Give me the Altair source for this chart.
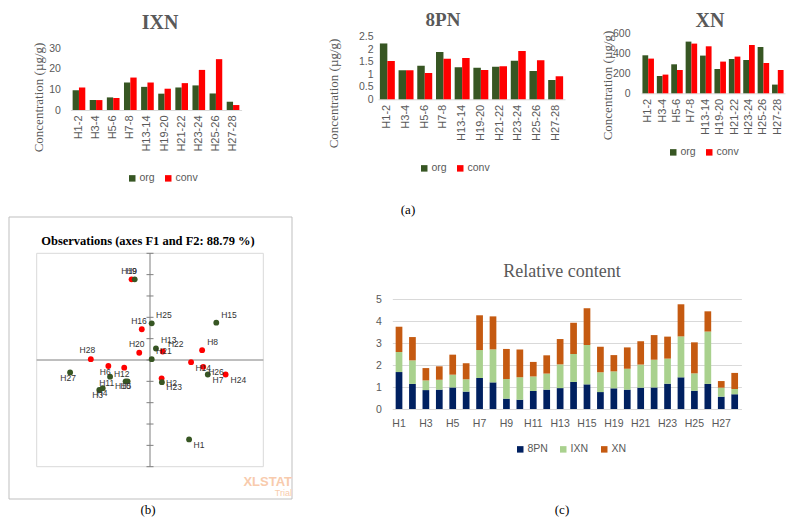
import altair as alt
import pandas as pd

# ---------------- data ----------------
pairs = ["H1-2", "H3-4", "H5-6", "H7-8", "H13-14", "H19-20", "H21-22", "H23-24", "H25-26", "H27-28"]
ixn_org = [9.6, 4.8, 6.1, 13.3, 11.2, 7.9, 10.9, 11.9, 8.0, 4.0]
ixn_conv = [10.9, 4.8, 5.8, 15.7, 13.3, 10.3, 13.0, 19.4, 24.6, 2.4]
pn_org = [2.23, 1.16, 1.34, 1.89, 1.28, 1.26, 1.30, 1.54, 1.13, 0.77]
pn_conv = [1.53, 1.16, 1.05, 1.62, 1.65, 1.17, 1.32, 1.93, 1.56, 0.92]
xn_org = [380, 173, 290, 517, 377, 243, 343, 333, 463, 87]
xn_conv = [347, 187, 233, 497, 470, 317, 367, 483, 303, 233]
ixn_ticks = [0, 10, 20, 30]
pn_ticks = [0, 0.5, 1, 1.5, 2, 2.5]
xn_ticks = [0, 200, 400, 600]

samples = ["H1", "H2", "H3", "H4", "H5", "H6", "H7", "H8", "H9", "H10", "H11", "H12", "H13",
           "H14", "H15", "H16", "H19", "H20", "H21", "H22", "H23", "H24", "H25", "H26", "H27", "H28"]
rel_8pn = [1.68, 1.14, 0.86, 0.88, 0.98, 0.79, 1.41, 1.21, 0.47, 0.42, 0.82, 0.88, 0.95,
           1.23, 1.12, 0.77, 0.94, 0.88, 0.97, 0.98, 1.15, 1.44, 0.83, 1.14, 0.56, 0.67]
rel_ixn = [0.91, 1.07, 0.44, 0.45, 0.58, 0.56, 1.27, 1.50, 0.89, 1.02, 0.66, 0.73, 1.08,
           1.27, 1.79, 0.90, 0.77, 0.95, 1.05, 1.26, 1.14, 1.86, 0.79, 2.38, 0.41, 0.24]
rel_xn = [1.15, 1.06, 0.56, 0.61, 0.91, 0.73, 1.58, 1.50, 1.37, 1.26, 0.66, 0.83, 1.15,
          1.42, 1.67, 1.16, 0.74, 0.97, 1.06, 1.12, 1.00, 1.46, 1.41, 0.92, 0.30, 0.73]
rel_tick_labels = ["H1", "H3", "H5", "H7", "H9", "H11", "H13", "H15", "H19", "H21", "H23", "H25", "H27"]
rel_y_ticks = [0, 1, 2, 3, 4, 5]

obs_ids = ["H19", "H16", "H20", "H28", "H6", "H12", "H2", "H22", "H14", "H8", "H26", "H24",
           "H9", "H25", "H15", "H13", "H21", "H27", "H11", "H10", "H5", "H3", "H4", "H23", "H7", "H1"]
obs_type = ["conv"] * 12 + ["org"] * 14
obs_f1 = [-0.65, -0.29, -0.38, -2.09, -1.47, -0.91, 0.41, 0.45, 1.45, 1.84, 1.88, 2.67,
          -0.54, 0.06, 2.34, 0.21, 0.06, -2.82, -1.41, -0.86, -0.79, -1.79, -1.67, 0.42, 2.04, 1.38]
obs_f2 = [1.89, 0.72, 0.17, 0.02, -0.14, -0.18, -0.43, 0.20, -0.05, 0.23, -0.16, -0.34,
          1.89, 0.86, 0.875, 0.27, 0.02, -0.29, -0.39, -0.50, -0.50, -0.70, -0.66, -0.52, -0.34, -1.86]
obs_label_f1 = [-0.74, -0.39, -0.47, -2.21, -1.58, -1.00, 0.76, 0.91, 1.88, 2.21, 2.33, 3.12,
                -0.65, 0.49, 2.79, 0.66, 0.49, -2.89, -1.53, -0.96, -0.85, -1.85, -1.69, 0.85, 2.40, 1.73]
obs_label_f2 = [2.09, 0.91, 0.37, 0.23, -0.27, -0.32, -0.55, 0.38, -0.18, 0.42, -0.29, -0.47,
                2.09, 1.05, 1.05, 0.47, 0.20, -0.42, -0.53, -0.61, -0.61, -0.82, -0.77, -0.64, -0.47, -1.99]
f1_ticks = [-4, -2, 0, 2, 4]
f2_ticks = [-2.5, -2, -1.5, -1, -0.5, 0, 0.5, 1, 1.5, 2, 2.5]

# ---------------- style ----------------
W, H = 781, 512
GRAY = "#595959"
SANS = "Liberation Sans"
SERIF = "Liberation Serif"
ORG, CONV = "#375623", "#ff0000"
NAVY, LGREEN, ORANGE = "#002060", "#a9d18e", "#c55a11"
NUM = "datum.value + ''"

top = pd.DataFrame({
    "pair": pairs * 2,
    "type": ["org"] * len(pairs) + ["conv"] * len(pairs),
    "IXN": ixn_org + ixn_conv,
    "PN8": pn_org + pn_conv,
    "XN": xn_org + xn_conv,
})


def top_panel(field, x0, x1, pad, y0, y1, ymax, yticks, lab_pad, t_dx, t_y, leg_x, leg_y):
    xs = alt.Scale(range=[x0, x1], paddingInner=pad, paddingOuter=pad / 2)
    ys = alt.Scale(domain=[0, ymax], range=[y0, y1], nice=False, zero=True)
    return alt.Chart(top).mark_bar().encode(
        x=alt.X("pair:N", sort=pairs, scale=xs,
                axis=alt.Axis(orient="bottom", offset=y0 - H, title=None, labelAngle=270,
                              labelPadding=5, ticks=False, domainColor="#d9d9d9", grid=False,
                              labelOverlap=False, labelFont=SANS, labelFontSize=11,
                              labelColor=GRAY)),
        xOffset=alt.XOffset("type:N", sort=["org", "conv"], scale=alt.Scale(paddingInner=0)),
        y=alt.Y(f"{field}:Q", scale=ys,
                axis=alt.Axis(orient="left", offset=-x0, values=yticks, labelExpr=NUM, ticks=False,
                              domain=False, grid=False, labelPadding=lab_pad, labelFont=SANS,
                              labelFontSize=10.5, labelColor=GRAY,
                              title="Concentration (µg/g)", titleFont=SERIF, titleFontSize=13,
                              titleFontWeight="normal", titleColor=GRAY, titleAngle=270,
                              titleAlign="center", titleBaseline="middle", titleX=t_dx, titleY=t_y)),
        color=alt.Color("type:N", scale=alt.Scale(domain=["org", "conv"], range=[ORG, CONV]),
                        legend=alt.Legend(orient="none", legendX=leg_x, legendY=leg_y,
                                          direction="horizontal", title=None, symbolType="square",
                                          symbolSize=42, symbolStrokeWidth=0, labelFont=SANS,
                                          labelFontSize=10.5, labelColor=GRAY, columnPadding=8,
                                          labelOffset=2)),
    )


ixn = top_panel("IXN", 62.4, 233.6, 0.26, 102, 40, 30, ixn_ticks, 10, -32, 89, 119, 165)
pn = top_panel("PN8", 370, 557, 0.2, 91.3, 28.7, 2.5, pn_ticks, 5, -45, 85, 411, 155)
xn = top_panel("XN", 633, 777, 0.2, 85.3, 25.3, 600, xn_ticks, 11, -34, 77, 660, 139)

# ---------------- scatter (b) ----------------
sc = pd.DataFrame({"id": obs_ids, "type": obs_type, "F1": obs_f1, "F2": obs_f2,
                   "lx": obs_label_f1, "ly": obs_label_f2})
one = pd.DataFrame({"a": [0]})
sx = alt.Scale(domain=[-4, 4], range=[28.7, 255.3], nice=False, zero=False)
sy = alt.Scale(domain=[-2.5, 2.5], range=[458.7, 245.3], nice=False, zero=False)

frame = alt.Chart(one).mark_rect(fillOpacity=0, stroke="#d9d9d9", strokeWidth=1).encode(
    x=alt.XDatum(-4, type="quantitative", scale=sx, axis=None), x2=alt.X2Datum(4),
    y=alt.YDatum(-2.5, type="quantitative", scale=sy, axis=None), y2=alt.Y2Datum(2.5))
vline = alt.Chart(one).mark_rule(color="#7f7f7f", strokeWidth=1).encode(
    x=alt.XDatum(0, type="quantitative", scale=sx, axis=None),
    y=alt.YDatum(-2.5, type="quantitative", scale=sy, axis=None), y2=alt.Y2Datum(2.5))
hline = alt.Chart(one).mark_rule(color="#7f7f7f", strokeWidth=1).encode(
    x=alt.XDatum(-4, type="quantitative", scale=sx, axis=None), x2=alt.X2Datum(4),
    y=alt.YDatum(0, type="quantitative", scale=sy, axis=None))
yt = alt.Chart(pd.DataFrame({"v": f2_ticks})).mark_point(
    shape="stroke", size=49, filled=False, color="#7f7f7f", strokeWidth=1, opacity=1).encode(
    x=alt.XDatum(0, type="quantitative", scale=sx, axis=None),
    y=alt.Y("v:Q", scale=sy, axis=None))
pts = alt.Chart(sc).mark_circle(size=34, opacity=1).encode(
    x=alt.X("F1:Q", scale=sx,
            axis=alt.Axis(orient="bottom", offset=458.7 - H, values=f1_ticks,
                          labelExpr=NUM, ticks=False, domain=False, grid=False,
                          labelFlush=False, labelFont=SANS, labelFontSize=8.5, labelColor="#222",
                          labelPadding=6, title="F1 (69.24 %)", titleFont=SANS, titleFontSize=10.5,
                          titleFontWeight="normal", titleColor="#222", titleX=140, titleY=24,
                          titleAlign="center", titleBaseline="middle")),
    y=alt.Y("F2:Q", scale=sy,
            axis=alt.Axis(orient="left", offset=-28.7, values=f2_ticks,
                          labelExpr=NUM, ticks=False, domain=False, grid=False,
                          labelOverlap=False, labelFont=SANS, labelFontSize=8.5, labelColor="#222",
                          labelPadding=8, title="F2 (19.55 %)", titleFont=SANS, titleFontSize=10.5,
                          titleFontWeight="normal", titleColor="#222", titleAngle=270,
                          titleX=-23.7, titleY=352, titleAlign="center", titleBaseline="middle")),
    color=alt.Color("type:N", scale=alt.Scale(domain=["org", "conv"], range=[ORG, CONV]), legend=None),
)
lbls = alt.Chart(sc).mark_text(font=SANS, fontSize=8.5, color="#333").encode(
    x=alt.X("lx:Q", scale=sx, axis=None), y=alt.Y("ly:Q", scale=sy, axis=None), text="id:N")
scatter = alt.layer(frame, vline, hline, yt, pts, lbls)

# ---------------- relative content (c) ----------------
n = len(samples)
rel = pd.DataFrame({
    "sample": samples * 3,
    "comp": ["8PN"] * n + ["IXN"] * n + ["XN"] * n,
    "ord": [0] * n + [1] * n + [2] * n,
    "val": rel_8pn + rel_ixn + rel_xn,
})
relc = alt.Chart(rel).mark_bar().encode(
    x=alt.X("sample:N", sort=samples,
            scale=alt.Scale(range=[384.3, 733.4], paddingInner=0.5, paddingOuter=0.25),
            axis=alt.Axis(orient="bottom", offset=401 - H, values=rel_tick_labels, labelAngle=0,
                          ticks=False, domainColor="#d9d9d9", grid=False, labelPadding=9,
                          labelOverlap=False, labelFont=SANS, labelFontSize=10.5,
                          labelColor=GRAY, title=None)),
    y=alt.Y("val:Q", stack="zero", scale=alt.Scale(domain=[0, 5], range=[401, 291], nice=False),
            axis=alt.Axis(orient="left", offset=-384.3, values=rel_y_ticks, grid=True,
                          gridColor="#d9d9d9", ticks=False, domain=False, labelPadding=11,
                          labelFont=SANS, labelFontSize=10.5, labelColor=GRAY, title=None)),
    color=alt.Color("comp:N", scale=alt.Scale(domain=["8PN", "IXN", "XN"], range=[NAVY, LGREEN, ORANGE]),
                    legend=alt.Legend(orient="none", legendX=507, legendY=436, direction="horizontal",
                                      title=None, symbolType="square", symbolSize=42,
                                      symbolStrokeWidth=0, labelFont=SANS, labelFontSize=10.5,
                                      labelColor=GRAY, columnPadding=10, labelOffset=2)),
    order=alt.Order("ord:Q", sort="ascending"),
)


# ---------------- annotations ----------------
def txt(text, x, y, **kw):
    return alt.Chart(pd.DataFrame({"t": [text]})).mark_text(baseline="middle", **kw).encode(
        x=alt.value(x), y=alt.value(y), text="t:N")


outer = alt.Chart(one).mark_rect(fillOpacity=0, stroke="#bfbfbf", strokeWidth=1).encode(
    x=alt.value(1), x2=alt.value(284), y=alt.value(209), y2=alt.value(491))

ann = [
    outer,
    txt("IXN", 152, 15, font=SERIF, fontSize=20, fontWeight="bold", color=GRAY),
    txt("8PN", 435, 12, font=SERIF, fontSize=19, fontWeight="bold", color=GRAY),
    txt("XN", 702, 13, font=SERIF, fontSize=20, fontWeight="bold", color=GRAY),
    txt("(a)", 400, 202, font=SERIF, fontSize=13, color="#000"),
    txt("Observations (axes F1 and F2: 88.79 %)", 140, 233, font=SERIF, fontSize=12.5,
        fontWeight="bold", color="#000"),
    txt("XLSTAT", 284, 474, font=SANS, fontSize=13, fontWeight="bold", color="#f8cbad", align="right"),
    txt("Trial", 284, 485, font=SANS, fontSize=9, color="#f8cbad", align="right"),
    txt("(b)", 140, 502, font=SERIF, fontSize=13, color="#000"),
    txt("Relative content", 554, 264, font=SERIF, fontSize=18, color=GRAY),
    txt("(c)", 554, 502, font=SERIF, fontSize=13, color="#000"),
]

chart = alt.layer(ixn, pn, xn, scatter, relc, *ann).resolve_scale(
    x="independent", y="independent", color="independent", xOffset="independent"
).properties(width=W, height=H, padding=0, autosize="none").configure_view(strokeWidth=0)

chart.save("out.html", embed_options={"renderer": "svg", "actions": False})
